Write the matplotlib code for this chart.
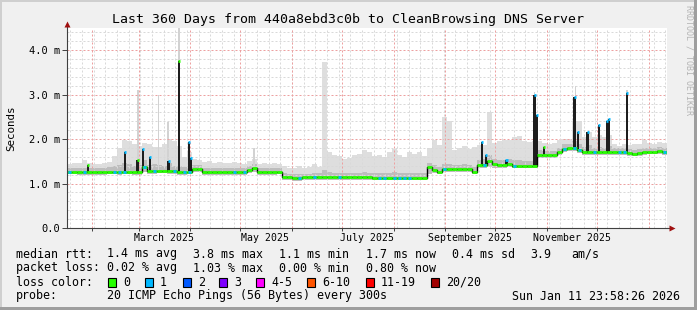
import matplotlib
matplotlib.use('Agg')
import matplotlib.pyplot as plt
from matplotlib.patches import Rectangle
import numpy as np
from datetime import datetime, timedelta

plt.rcParams['font.family'] = ['DejaVu Sans Mono']

# time axis: 360 days ending Sun Jan 11 23:58:26 2026, one sample every 3 days
start = datetime(2025, 1, 16, 23, 58, 26)
span_days = 360
step_days = 3

# median rtt (ms), one value per 3-day step
median = [1.27, 1.27, 1.26, 1.26, 1.25, 1.26, 1.26, 1.26, 1.27, 1.27,
          1.26, 1.27, 1.27, 1.25, 1.25, 1.37, 1.28, 1.28, 1.29, 1.29,
          1.28, 1.28, 1.26, 1.26, 1.27, 1.33, 1.33, 1.26, 1.25, 1.25,
          1.25, 1.25, 1.25, 1.26, 1.26, 1.26, 1.30, 1.35, 1.26, 1.26,
          1.26, 1.26, 1.27, 1.15, 1.14, 1.12, 1.12, 1.14, 1.14, 1.14,
          1.14, 1.14, 1.15, 1.14, 1.14, 1.14, 1.15, 1.15, 1.15, 1.15,
          1.14, 1.13, 1.13, 1.13, 1.13, 1.13, 1.13, 1.13, 1.13, 1.13,
          1.13, 1.13, 1.38, 1.30, 1.27, 1.33, 1.32, 1.32, 1.32, 1.32,
          1.32, 1.27, 1.41, 1.41, 1.50, 1.44, 1.41, 1.41, 1.45, 1.40,
          1.40, 1.40, 1.40, 1.40, 1.64, 1.64, 1.64, 1.64, 1.71, 1.78,
          1.80, 1.80, 1.75, 1.71, 1.71, 1.70, 1.70, 1.70, 1.71, 1.70,
          1.70, 1.70, 1.68, 1.67, 1.68, 1.71, 1.72, 1.72, 1.73, 1.70]

# packet loss count per step (0 or 1 of 20)
loss = [1, 0, 0, 1, 0, 0, 0, 0, 0, 1,
        1, 1, 0, 0, 0, 1, 0, 1, 0, 0,
        0, 1, 0, 1, 1, 0, 0, 0, 0, 0,
        0, 0, 0, 1, 0, 1, 0, 0, 0, 0,
        0, 0, 0, 0, 0, 0, 1, 0, 0, 1,
        0, 0, 0, 0, 1, 0, 0, 0, 0, 0,
        0, 0, 1, 1, 0, 1, 1, 1, 1, 0,
        0, 0, 0, 0, 0, 1, 0, 0, 0, 0,
        0, 0, 0, 1, 0, 0, 0, 0, 0, 1,
        0, 0, 0, 0, 0, 0, 0, 0, 0, 1,
        0, 1, 1, 0, 0, 1, 0, 0, 0, 0,
        1, 1, 0, 0, 0, 0, 0, 0, 0, 1]

# smoke: lowest ping, upper edge of dense smoke, highest ping (ms)
smoke_lo = [1.21, 1.21, 1.20, 1.20, 1.19, 1.20, 1.20, 1.20, 1.21, 1.21,
            1.20, 1.21, 1.21, 1.19, 1.19, 1.25, 1.22, 1.22, 1.23, 1.23,
            1.22, 1.22, 1.20, 1.20, 1.21, 1.26, 1.26, 1.20, 1.19, 1.19,
            1.19, 1.19, 1.19, 1.20, 1.20, 1.20, 1.23, 1.27, 1.20, 1.20,
            1.20, 1.20, 1.21, 1.09, 1.08, 1.06, 1.06, 1.08, 1.08, 1.08,
            1.08, 1.08, 1.09, 1.08, 1.08, 1.08, 1.09, 1.09, 1.09, 1.09,
            1.08, 1.07, 1.07, 1.07, 1.07, 1.07, 1.07, 1.07, 1.07, 1.07,
            1.07, 1.07, 1.22, 1.24, 1.21, 1.25, 1.27, 1.26, 1.26, 1.26,
            1.26, 1.21, 1.34, 1.35, 1.38, 1.36, 1.35, 1.35, 1.37, 1.34,
            1.34, 1.34, 1.34, 1.34, 1.57, 1.57, 1.57, 1.57, 1.64, 1.71,
            1.73, 1.73, 1.69, 1.65, 1.65, 1.64, 1.64, 1.64, 1.65, 1.64,
            1.64, 1.64, 1.62, 1.61, 1.62, 1.65, 1.66, 1.66, 1.67, 1.65]

smoke_mid = [1.36, 1.36, 1.35, 1.36, 1.35, 1.35, 1.35, 1.35, 1.37, 1.40,
             1.42, 1.46, 1.44, 1.40, 1.42, 1.52, 1.42, 1.44, 1.42, 1.40,
             1.46, 1.40, 1.40, 1.37, 1.40, 1.42, 1.42, 1.35, 1.34, 1.34,
             1.34, 1.34, 1.34, 1.35, 1.35, 1.35, 1.39, 1.44, 1.35, 1.35,
             1.35, 1.35, 1.36, 1.24, 1.22, 1.21, 1.21, 1.22, 1.22, 1.23,
             1.23, 1.30, 1.25, 1.24, 1.23, 1.23, 1.24, 1.24, 1.24, 1.25,
             1.24, 1.23, 1.23, 1.23, 1.24, 1.25, 1.23, 1.23, 1.24, 1.23,
             1.24, 1.23, 1.47, 1.42, 1.38, 1.44, 1.43, 1.42, 1.42, 1.43,
             1.42, 1.38, 1.52, 1.56, 1.64, 1.56, 1.52, 1.52, 1.56, 1.52,
             1.52, 1.51, 1.51, 1.51, 1.76, 1.74, 1.73, 1.74, 1.81, 1.88,
             1.90, 1.95, 1.90, 1.82, 1.86, 1.80, 1.82, 1.80, 1.85, 1.80,
             1.79, 1.79, 1.77, 1.76, 1.77, 1.80, 1.81, 1.81, 1.82, 1.80]

smoke_hi = [1.45, 1.46, 1.47, 1.54, 1.46, 1.45, 1.44, 1.46, 1.48, 1.62,
            1.79, 1.97, 1.95, 1.90, 1.85, 1.92, 1.90, 1.82, 1.82, 1.88,
            2.00, 1.95, 1.85, 1.60, 1.70, 1.55, 1.52, 1.48, 1.50, 1.47,
            1.48, 1.47, 1.46, 1.48, 1.46, 1.45, 1.50, 1.55, 1.45, 1.46,
            1.45, 1.46, 1.45, 1.40, 1.34, 1.35, 1.40, 1.36, 1.37, 1.45,
            1.38, 3.73, 1.70, 1.65, 1.62, 1.55, 1.58, 1.64, 1.66, 1.75,
            1.72, 1.62, 1.65, 1.60, 1.70, 1.78, 1.65, 1.60, 1.70, 1.66,
            1.72, 1.62, 1.80, 1.97, 1.87, 2.50, 2.40, 1.75, 1.80, 1.85,
            1.78, 1.82, 1.87, 1.87, 2.60, 1.92, 1.95, 1.98, 1.98, 2.05,
            2.08, 1.95, 1.93, 1.95, 1.95, 1.92, 1.90, 1.92, 1.97, 2.00,
            2.00, 2.40, 2.40, 2.05, 2.15, 2.05, 2.10, 2.05, 2.10, 1.88,
            1.85, 1.88, 1.86, 1.88, 1.90, 1.97, 1.92, 1.90, 1.93, 1.92]

# short median excursions (day, peak ms, loss count at peak)
spike_day = [12.6, 34.6, 42.3, 45.4, 49.8, 60.9, 67.2, 73.2, 74.4, 249.0, 251.4,
             263.7, 280.5, 281.7, 286.2, 304.5, 306.6, 312.3, 319.0, 324.0, 325.2, 336.0]
spike_top = [1.41, 1.71, 1.52, 1.77, 1.60, 1.50, 3.75, 1.94, 1.57, 1.94, 1.64,
             1.52, 3.00, 2.55, 1.82, 2.95, 2.16, 2.16, 2.31, 2.40, 2.46, 3.03]
spike_loss = [0, 1, 0, 1, 1, 1, 0, 1, 1, 1, 1, 1, 1, 1, 0, 1, 1, 1, 1, 1, 1, 1]

# single outlier pings above the smoke (day, ms)
outlier_day = [42.6, 55.0, 60.6, 67.2, 112.2, 280.5, 305.1, 336.0]
outlier_top = [3.10, 3.00, 2.38, 4.50, 1.79, 3.05, 3.20, 3.10]

loss_colors = ['#26ff00', '#00b8ff', '#0059ff', '#7e00ff', '#ff00ff', '#ff5500', '#ff0000', '#a10000']
loss_labels = ['0', '1', '2', '3', '4-5', '6-10', '11-19', '20/20']

ytick_vals = [0, 1, 2, 3, 4]
ytick_labels = ['0.0', '1.0 m', '2.0 m', '3.0 m', '4.0 m']
xlabel_months = [(2025, 3), (2025, 5), (2025, 7), (2025, 9), (2025, 11)]


def dnum(dt):
    return (dt - start).total_seconds() / 86400.0


W, H = 697, 310
fig = plt.figure(figsize=(W / 100, H / 100), dpi=100, facecolor='#f0f0f0')
ax = fig.add_axes([67 / W, 1 - 228 / H, 600 / W, 200 / H])
ax.set_facecolor('white')
ax.set_xlim(0, span_days)
ax.set_ylim(0, 4.5)

days = np.arange(len(median)) * step_days
xe = np.append(days, span_days)
ext = lambda a: np.append(a, a[-1])

# smoke
ax.fill_between(xe, ext(smoke_lo), ext(smoke_hi), step='post', color='#dedede', lw=0, zorder=2)
ax.fill_between(xe, ext(smoke_lo), ext(smoke_mid), step='post', color='#bdbdbd', lw=0, zorder=2)
for d, t in zip(outlier_day, outlier_top):
    base = median[int(d // step_days)]
    ax.bar(d, t - base, bottom=base, width=0.7, color='#d2d2d2', lw=0, zorder=2)

# grid
for v in np.arange(0.2, 4.5, 0.2):
    if abs(v - round(v)) < 1e-6:
        ax.axhline(v, color='#eda0a0', lw=0.72, ls=(0, (2, 2)), zorder=3)
    else:
        ax.axhline(v, color='#d9d9d9', lw=0.72, ls=(0, (2, 2)), zorder=3)
sunday = datetime(2025, 1, 19)
while dnum(sunday) < span_days:
    if dnum(sunday) > 0.5:
        ax.axvline(dnum(sunday), color='#d9d9d9', lw=0.72, ls=(0, (2, 2)), zorder=3)
    sunday += timedelta(days=7)
month_starts = []
for y, m in [(2025, k) for k in range(2, 13)] + [(2026, 1)]:
    month_starts.append(dnum(datetime(y, m, 1)))
for d in month_starts:
    ax.axvline(d, color='#eda0a0', lw=0.72, ls=(0, (2, 2)), zorder=3)

# spikes
for d, t, l in zip(spike_day, spike_top, spike_loss):
    base = median[int(d // step_days)]
    ax.bar(d, t - base, bottom=base, width=1.3, color='#1e1e1e', lw=0, zorder=5)
    ax.hlines(t, d - 0.6, d + 0.6, color=loss_colors[l], lw=2.0, zorder=7)

# median line coloured by loss
ax.step(xe, ext(median), where='post', color='black', lw=1.0, zorder=6)
ax.hlines(median, days, days + step_days, colors=[loss_colors[0]] * len(median), lw=2.0, zorder=7)
for i, l in enumerate(loss):
    if l:
        ax.hlines(median[i], days[i] + 0.6, days[i] + 2.4, color=loss_colors[l], lw=2.0, zorder=8)

# axes
for s in ['top', 'right', 'left', 'bottom']:
    ax.spines[s].set_visible(False)
ax.plot([0, 1.008], [0, 0], transform=ax.transAxes, clip_on=False, color='#404040', lw=0.8, zorder=9)
ax.plot([0, 0], [0, 1.01], transform=ax.transAxes, clip_on=False, color='#404040', lw=0.8, zorder=9)
ax.plot(1.0075, 0, marker='>', ms=4.5, color='#a01010', mec='none', transform=ax.transAxes, clip_on=False, zorder=10)
ax.plot(0, 1.02, marker='^', ms=4.5, color='#a01010', mec='none', transform=ax.transAxes, clip_on=False, zorder=10)

ax.set_yticks(ytick_vals, ytick_labels)
ax.tick_params(axis='y', length=3.5, width=0.7, pad=1.5, labelsize=7.5, color='#404040')
ax.set_xticks(month_starts[:-1])
ax.set_xticklabels([])
ax.tick_params(axis='x', which='major', length=2.5, width=0.7, color='#404040')
ax.set_xticks([dnum(datetime(y, m, 16)) for y, m in xlabel_months], minor=True)
ax.set_xticklabels([datetime(y, m, 1).strftime('%B %Y') for y, m in xlabel_months], minor=True)
ax.tick_params(axis='x', which='minor', length=0, pad=3.5, labelsize=7.1)

fig.text(11 / W, 1 - 128 / H, 'Seconds', rotation=90, ha='center', va='center', fontsize=7.8)
fig.text(348 / W, 1 - 19 / H, 'Last 360 Days from 440a8ebd3c0b to CleanBrowsing DNS Server',
         ha='center', va='center', fontsize=9.5)
fig.text(688.5 / W, 1 - 60 / H, 'RRDTOOL / TOBI OETIKER', rotation=270, ha='center', va='center',
         fontsize=6, color='#b4b4b4')

# legend block
fs = 8.4
rows = [
    (254, [(16, 'median rtt:'), (107.3, '1.4 ms avg'), (193.3, '3.8 ms max'), (279.3, '1.1 ms min'),
           (366, '1.7 ms now'), (451.7, '0.4 ms sd'), (530, '3.9'), (571.7, 'am/s')]),
    (268, [(16, 'packet loss:'), (107.3, '0.02 % avg'), (193.3, '1.03 % max'), (279.3, '0.00 % min'),
           (366, '0.80 % now')]),
    (282, [(16, 'loss color:')]),
    (296, [(16, 'probe:'), (107.3, '20 ICMP Echo Pings (56 Bytes) every 300s')]),
]
for yy, items in rows:
    for xx, s in items:
        fig.text(xx / W, 1 - yy / H, s, ha='left', va='center', fontsize=fs)
fig.text(680 / W, 1 - 296 / H, 'Sun Jan 11 23:58:26 2026', ha='right', va='center', fontsize=fs)

box_x = [108.3, 145, 182.7, 219, 256, 307.3, 365.7, 430.7]
for bx, c, lab in zip(box_x, loss_colors, loss_labels):
    fig.patches.append(Rectangle((bx / W, 1 - 286.5 / H), 8 / W, 9 / H, transform=fig.transFigure,
                                 facecolor=c, edgecolor='black', lw=0.8))
    fig.text((bx + 15) / W, 1 - 282 / H, lab, ha='left', va='center', fontsize=fs)

# image frame
fig.patches.append(Rectangle((0, 1 - 2 / H), 1, 2 / H, transform=fig.transFigure, color='#cfcfcf', lw=0))
fig.patches.append(Rectangle((0, 0), 2 / W, 1, transform=fig.transFigure, color='#cfcfcf', lw=0))
fig.patches.append(Rectangle((0, 0), 1, 3 / H, transform=fig.transFigure, color='#9e9e9e', lw=0))
fig.patches.append(Rectangle((1 - 3 / W, 0), 3 / W, 1, transform=fig.transFigure, color='#9e9e9e', lw=0))

fig.savefig('out.png', dpi=100, facecolor=fig.get_facecolor())
